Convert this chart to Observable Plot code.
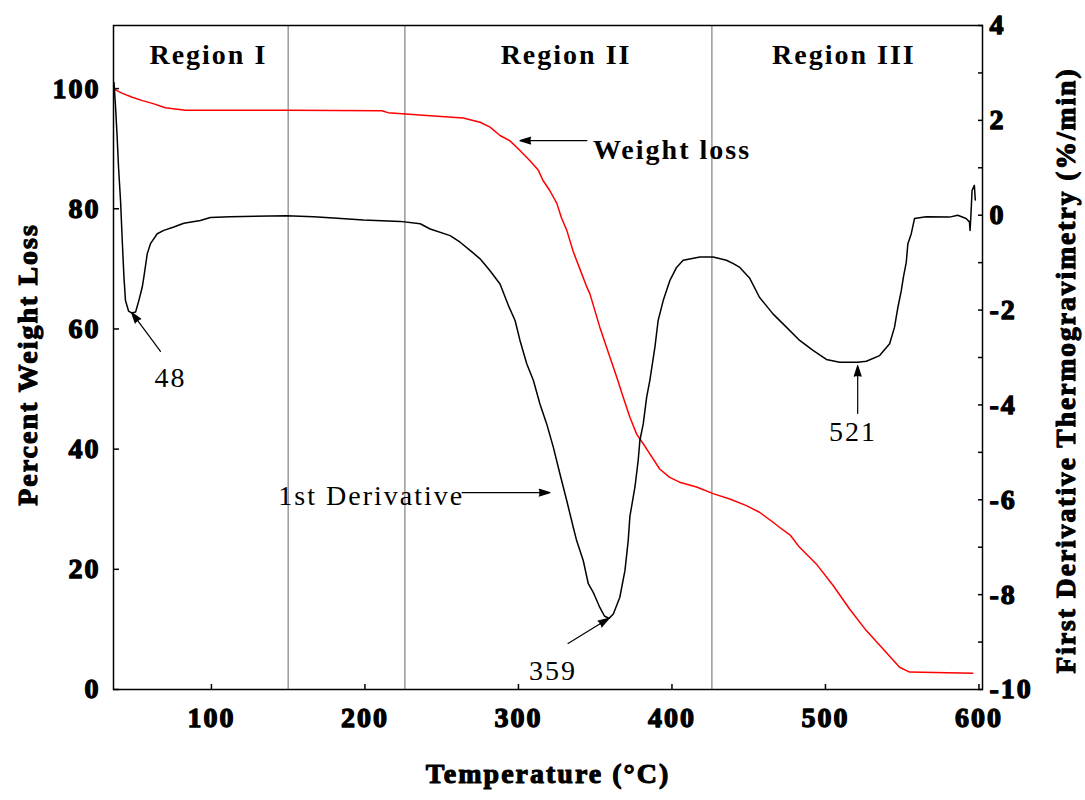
<!DOCTYPE html>
<html>
<head>
<meta charset="utf-8">
<script src="https://cdn.jsdelivr.net/npm/d3@7"></script>
<script src="https://cdn.jsdelivr.net/npm/@observablehq/plot@0.6"></script>
<style>
  html, body { margin: 0; padding: 0; background: #fff; }
  #chart svg { display: block; }
</style>
</head>
<body>
<div id="chart"></div>
<script>
// Thermogravimetric analysis: percent weight (left axis) and its first derivative (right axis)

// Weight-loss curve: temperature (°C) and remaining weight (%)
const weightTemp = [36.5, 37.5, 42, 48, 55, 62, 70, 83, 150, 211, 215, 242.5, 264, 275, 281.5, 288, 294.5,
  301, 307.5, 313, 316, 320.5, 325, 328, 331.5, 335.5, 340, 344.5, 346.6, 353, 359.6, 364, 368.3, 372.6,
  377, 381.3, 385.6, 392, 398.5, 405, 416, 426.8, 437.7, 448.5, 457, 465, 470, 477, 483, 494, 505, 515.7,
  526.6, 537.4, 548.3, 554.8, 596];
const weightPct = [100, 99.8, 99.2, 98.6, 98.0, 97.5, 96.8, 96.4, 96.4, 96.3, 96.0, 95.5, 95.1, 94.4, 93.6,
  92.2, 91.3, 89.7, 88.0, 86.4, 84.7, 83.0, 80.9, 78.5, 76.4, 73.0, 70.0, 67.0, 65.8, 60.3, 55.3, 52.0,
  48.6, 45.3, 42.5, 40.9, 39.2, 36.7, 35.3, 34.5, 33.7, 32.6, 31.7, 30.6, 29.5, 28.0, 27.0, 25.7, 23.7,
  20.9, 17.3, 13.4, 9.8, 6.8, 3.7, 2.9, 2.7];

// First-derivative curve: temperature (°C) and rate (%/min)
const derivTemp = [36.5, 37.5, 38.5, 39.5, 40.8, 42, 43, 44, 46, 48, 50.6, 52.7, 54.9, 56, 58.2, 60.3, 64.7,
  69, 75.5, 82, 92.8, 99.3, 112, 149, 166.5, 179.5, 199, 223, 236, 242.5, 255.5, 262, 268.5, 275, 281.5,
  288, 293.4, 297.8, 301, 305.4, 309.7, 314, 318.4, 322.7, 327, 331.4, 335.7, 337.9, 342.2, 345.5, 348.7,
  353, 356, 359, 361.8, 366, 369.4, 371.5, 372.6, 375.9, 378, 379.1, 381.3, 383.5, 385.6, 388.9, 391,
  394.3, 398.6, 403, 407.3, 418.2, 426.8, 435.5, 440, 444.2, 450.7, 457, 465.8, 474.5, 483.2, 491.9,
  500.6, 509.2, 521, 526.6, 535.3, 541.8, 545, 547.2, 549.4, 550.8, 552.6, 553.7, 555.9, 558, 565.6,
  580.8, 586.2, 591.6, 593.8, 594.2, 594.8, 595.5, 597, 597.6];
const derivRate = [2.8, 2.3, 1.7, 1.0, 0.3, -0.6, -1.3, -1.8, -2.02, -2.06, -2.04, -1.8, -1.52, -1.3, -0.81,
  -0.6, -0.39, -0.32, -0.25, -0.17, -0.11, -0.05, -0.03, -0.01, -0.03, -0.06, -0.1, -0.13, -0.18, -0.29,
  -0.43, -0.57, -0.74, -0.92, -1.17, -1.45, -1.9, -2.22, -2.64, -3.13, -3.48, -3.98, -4.4, -4.89, -5.45,
  -6.01, -6.58, -6.86, -7.28, -7.77, -7.95, -8.27, -8.45, -8.5, -8.41, -8.06, -7.49, -6.86, -6.35, -5.73,
  -5.17, -4.75, -4.4, -3.84, -3.48, -2.78, -2.22, -1.8, -1.38, -1.1, -0.95, -0.88, -0.88, -0.95, -1.02,
  -1.1, -1.33, -1.73, -2.08, -2.36, -2.64, -2.85, -3.04, -3.1, -3.1, -3.08, -2.96, -2.71, -2.36, -1.94,
  -1.59, -1.3, -1.0, -0.6, -0.39, -0.07, -0.03, -0.04, 0, -0.07, -0.14, -0.32, 0.03, 0.52, 0.63, 0.32];

// Axis ticks
const xTicks = [100, 200, 300, 400, 500, 600];
const leftTicks = [0, 20, 40, 60, 80, 100];
const rightTicks = [-10, -8, -6, -4, -2, 0, 2, 4];
const rightMinorTicks = [-9, -7, -5, -3, -1, 1, 3];

// Decomposition regions
const regionBounds = [150, 226, 426];
const regionNames = ["Region I", "Region II", "Region III"];
const regionLabelTemp = [98, 331, 512];

// Derivative peaks (temperature, rate)
const peakTemps = [48, 359, 521];
const peakRates = [-2.05, -8.5, -3.1];

// Axis titles
const xTitle = "Temperature (°C)";
const leftTitle = "Percent Weight Loss";
const rightTitle = "First Derivative Thermogravimetry (%/min)";

// Scale domains
const xDomain = [36.2, 602.3];
const leftDomain = [0, 110.5];
const rightDomain = [-10, 4];

// The derivative shares the plot's y scale through a linear map onto the left axis units
const toLeft = d3.scaleLinear().domain(rightDomain).range(leftDomain);

const weightRows = weightTemp.map((t, i) => ({t, v: weightPct[i]}));
const derivRows = derivTemp.map((t, i) => ({t, v: toLeft(derivRate[i])}));
const regionRows = regionNames.map((name, i) => ({name, t: regionLabelTemp[i]}));

// Callouts: arrow from (x1, y1) to (x2, y2) and a text anchored at (tx, ty); right-axis units where marked
const callouts = [
  {text: "Weight loss", axis: "left", bold: true, anchor: "start", tx: 348.5, ty: 88.3, x1: 344.6, y1: 91.35, x2: 301, y2: 91.35},
  {text: "1st Derivative", axis: "right", bold: false, anchor: "start", tx: 143.6, ty: -6.1, x1: 263.3, y1: -5.85, x2: 320.5, y2: -5.85},
  {text: String(peakTemps[0]), axis: "right", bold: false, anchor: "middle", tx: 73.3, ty: -3.63, x1: 66.8, y1: -2.87, x2: peakTemps[0], y2: peakRates[0]},
  {text: String(peakTemps[1]), axis: "right", bold: false, anchor: "middle", tx: 322.5, ty: -9.79, x1: 332.3, y1: -9.03, x2: peakTemps[1], y2: peakRates[1]},
  {text: String(peakTemps[2]), axis: "right", bold: false, anchor: "middle", tx: 518, ty: -4.75, x1: peakTemps[2], y1: -4.18, x2: peakTemps[2], y2: peakRates[2] - 0.07}
].map(c => {
  const f = c.axis === "right" ? toLeft : (v => v);
  return {...c, ty: f(c.ty), y1: f(c.y1), y2: f(c.y2)};
});

const axisText = {textStroke: "black", textStrokeWidth: 1.3, label: null, strokeWidth: 1.5};
const titleStyle = {fill: "black", stroke: "black", strokeWidth: 1.1, fontWeight: "bold", textAnchor: "middle", lineAnchor: "middle"};

const chart = Plot.plot({
  width: 1085,
  height: 800,
  marginLeft: 113,
  marginRight: 103,
  marginTop: 25,
  marginBottom: 111,
  style: "font-family: 'Liberation Serif', 'Times New Roman', serif; font-size: 28px; font-weight: bold; letter-spacing: 2px; color: black; background: white;",
  x: {domain: xDomain, axis: null},
  y: {domain: leftDomain, axis: null},
  marks: [
    Plot.ruleX(regionBounds, {stroke: "#999999", strokeWidth: 1.5}),
    Plot.line(weightRows, {x: "t", y: "v", stroke: "#ff0000", strokeWidth: 1.5}),
    Plot.line(derivRows, {x: "t", y: "v", stroke: "black", strokeWidth: 1.5}),
    Plot.frame({stroke: "black", strokeWidth: 1.5}),

    // Left axis (percent weight)
    Plot.axisY(leftTicks, {anchor: "left", tickSize: -6, tickPadding: 19, ...axisText}),
    // Right axis (derivative), labelled every 2 with unlabelled ticks between
    Plot.axisY(rightTicks.map(toLeft), {
      anchor: "right", tickSize: -5, tickPadding: 12, ...axisText,
      tickFormat: d => String(Math.round(toLeft.invert(d)))
    }),
    Plot.axisY(rightMinorTicks.map(toLeft), {anchor: "right", tickSize: -5, tickFormat: () => "", label: null, strokeWidth: 1.5}),
    // Bottom axis (temperature)
    Plot.axisX(xTicks, {anchor: "bottom", tickSize: -5, tickPadding: 23, ...axisText}),

    // Axis titles
    Plot.text([xTitle], {...titleStyle, text: d => d, frameAnchor: "bottom", dy: 93, lineAnchor: "bottom"}),
    Plot.text([leftTitle], {...titleStyle, text: d => d, frameAnchor: "left", rotate: -90, dx: -85, dy: 7}),
    Plot.text([rightTitle], {...titleStyle, text: d => d, frameAnchor: "right", rotate: -90, dx: 84, dy: 13, fontSize: 27.5}),

    // Region labels
    Plot.text(regionRows, {x: "t", text: "name", frameAnchor: "top", dy: 38, lineAnchor: "bottom", fill: "black"}),

    // Callout arrows and texts
    Plot.arrow(callouts, {x1: "x1", y1: "y1", x2: "x2", y2: "y2", stroke: "black", fill: "black",
      strokeWidth: 1.2, headLength: 14, headAngle: 35}),
    Plot.text(callouts.filter(c => c.bold), {x: "tx", y: "ty", text: "text", textAnchor: "start", lineAnchor: "bottom", fontWeight: "bold", fill: "black"}),
    Plot.text(callouts.filter(c => !c.bold && c.anchor === "start"), {x: "tx", y: "ty", text: "text", textAnchor: "start", lineAnchor: "bottom", fontWeight: "normal", fill: "black"}),
    Plot.text(callouts.filter(c => !c.bold && c.anchor === "middle"), {x: "tx", y: "ty", text: "text", textAnchor: "middle", lineAnchor: "bottom", fontWeight: "normal", fill: "black"})
  ]
});

document.getElementById("chart").appendChild(chart);
</script>
</body>
</html>
